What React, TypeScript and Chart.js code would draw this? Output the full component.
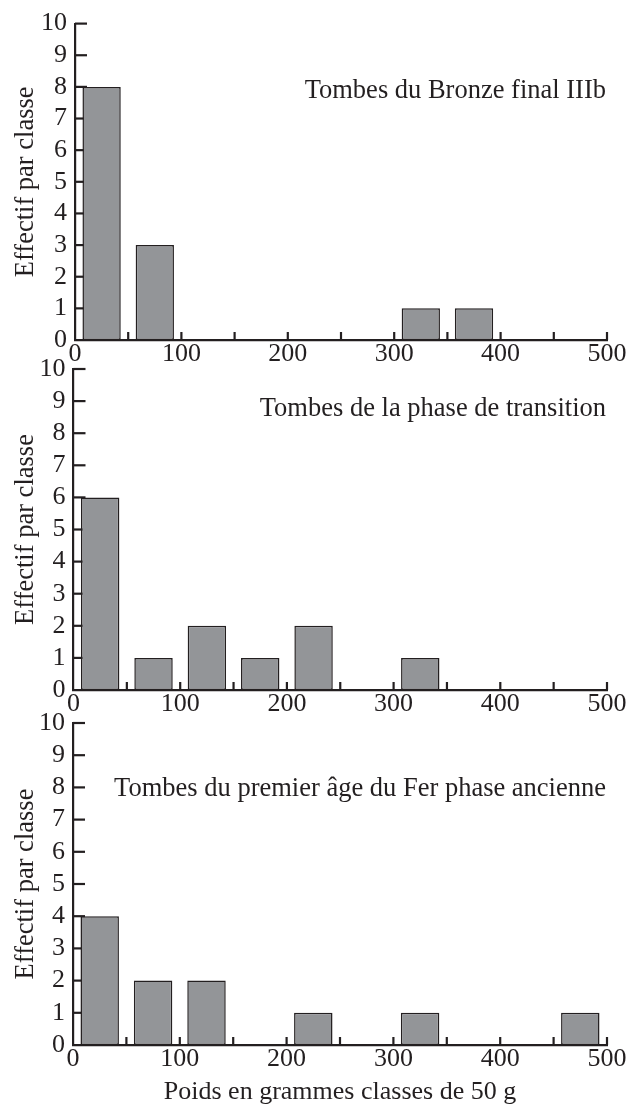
import React, { useEffect, useRef } from "react";
import { Chart, registerables } from "chart.js";

Chart.register(...registerables);

// ---- data ----
const binCenters = [25, 75, 125, 175, 225, 275, 325, 375, 425, 475];
const bronzeFinalIIIb = [8, 3, 0, 0, 0, 0, 1, 1, 0, 0];
const phaseTransition = [6, 1, 2, 1, 2, 0, 1, 0, 0, 0];
const premierAgeFer = [4, 2, 2, 0, 1, 0, 1, 0, 0, 1];
const panelTitles = [
  "Tombes du Bronze final IIIb",
  "Tombes de la phase de transition",
  "Tombes du premier âge du Fer phase ancienne",
];
const yAxisTitle = "Effectif par classe";
const xAxisTitle = "Poids en grammes classes de 50 g";
const xRange = [0, 500];
const yRange = [0, 10];
const xTickStep = 50;
const xLabelStep = 100;
const yTickStep = 1;

// ---- layout / style ----
const W = 631;
const H = 1106;
const INK = "#231f20";
const BAR_FILL = "#939598";
const FONT = '"Liberation Serif", "Times New Roman", serif';

const panels = [
  { values: bronzeFinalIIIb, title: panelTitles[0], left: 75, top: 17, bottom: 340, titleAt: 7.65, xTitle: false },
  { values: phaseTransition, title: panelTitles[1], left: 73.5, top: 369, bottom: 690, titleAt: 8.54, xTitle: false },
  { values: premierAgeFer, title: panelTitles[2], left: 73, top: 723, bottom: 1045, titleAt: 7.73, xTitle: true },
];
const RIGHT = 607;

const inwardTicks = {
  id: "inwardTicks",
  beforeDatasetsDraw(chart: any) {
    const { ctx, chartArea, scales } = chart;
    const x = scales.x;
    const y = scales.y;
    ctx.save();
    ctx.strokeStyle = INK;
    ctx.lineWidth = 2.2;
    ctx.lineCap = "butt";
    for (const t of x.ticks) {
      if (t.value === xRange[0]) continue;
      const px = x.getPixelForValue(t.value);
      ctx.beginPath();
      ctx.moveTo(px, chartArea.bottom);
      ctx.lineTo(px, chartArea.bottom - 8);
      ctx.stroke();
    }
    for (const t of y.ticks) {
      if (t.value === yRange[0]) continue;
      const py = y.getPixelForValue(t.value);
      ctx.beginPath();
      ctx.moveTo(chartArea.left, py);
      ctx.lineTo(chartArea.left + 12, py);
      ctx.stroke();
    }
    ctx.restore();
  },
};

const panelTitlePlugin = {
  id: "panelTitle",
  afterDraw(chart: any, _args: any, opts: any) {
    const { ctx, chartArea, scales } = chart;
    ctx.save();
    ctx.fillStyle = INK;
    ctx.font = `26.5px ${FONT}`;
    ctx.textAlign = "right";
    ctx.textBaseline = "alphabetic";
    ctx.fillText(opts.text, chartArea.right - 1, scales.y.getPixelForValue(opts.at));
    ctx.restore();
  },
};

function Panel({ p }: { p: (typeof panels)[number] }) {
  const ref = useRef<HTMLCanvasElement | null>(null);
  useEffect(() => {
    if (!ref.current) return;
    const xAxisH = p.xTitle ? H - p.bottom : 30;
    const chart = new Chart(ref.current, {
      type: "bar",
      data: {
        datasets: [
          {
            data: binCenters.map((c, i) => ({ x: c, y: p.values[i] })),
            backgroundColor: BAR_FILL,
            borderColor: INK,
            borderWidth: 1.5,
            borderSkipped: false,
            categoryPercentage: 0.8,
            barPercentage: 0.9,
          } as any,
        ],
      },
      options: {
        animation: false,
        responsive: false,
        devicePixelRatio: 1,
        layout: {
          padding: {
            left: 0,
            right: W - RIGHT,
            top: p.top,
            bottom: H - p.bottom - xAxisH,
          },
        },
        plugins: {
          legend: { display: false },
          tooltip: { enabled: false },
          panelTitle: { text: p.title, at: p.titleAt },
        } as any,
        scales: {
          x: {
            type: "linear",
            min: xRange[0],
            max: xRange[1],
            offset: false,
            grid: { display: false, drawTicks: false, offset: false },
            border: { display: true, color: INK, width: 2.2 },
            ticks: {
              stepSize: xTickStep,
              autoSkip: false,
              maxRotation: 0,
              padding: -1,
              color: INK,
              font: { family: FONT, size: 26 },
              callback: (v: any) => (Number(v) % xLabelStep === 0 ? String(v) : ""),
            },
            title: {
              display: p.xTitle,
              text: xAxisTitle,
              color: INK,
              font: { family: FONT, size: 26, lineHeight: 1 },
              padding: { top: 0, bottom: 1 },
            },
            afterFit: (s: any) => {
              s.height = xAxisH;
            },
          },
          y: {
            min: yRange[0],
            max: yRange[1],
            grid: { display: false, drawTicks: false },
            border: { display: true, color: INK, width: 2.2 },
            ticks: {
              stepSize: yTickStep,
              autoSkip: false,
              padding: 8,
              color: INK,
              font: { family: FONT, size: 26 },
            },
            title: {
              display: true,
              text: yAxisTitle,
              color: INK,
              font: { family: FONT, size: 26.5, lineHeight: 1 },
              padding: { top: 13, bottom: 0 },
            },
            afterFit: (s: any) => {
              s.width = p.left;
            },
          },
        },
      },
      plugins: [inwardTicks, panelTitlePlugin],
    } as any);
    return () => chart.destroy();
  }, [p]);
  return (
    <canvas
      ref={ref}
      width={W}
      height={H}
      style={{ position: "absolute", left: 0, top: 0, width: W, height: H }}
    />
  );
}

export default function App() {
  useEffect(() => {
    document.body.style.margin = "0";
    document.body.style.background = "#ffffff";
  }, []);
  return (
    <div style={{ position: "relative", width: W, height: H, background: "#ffffff" }}>
      {panels.map((p, i) => (
        <Panel key={i} p={p} />
      ))}
    </div>
  );
}
